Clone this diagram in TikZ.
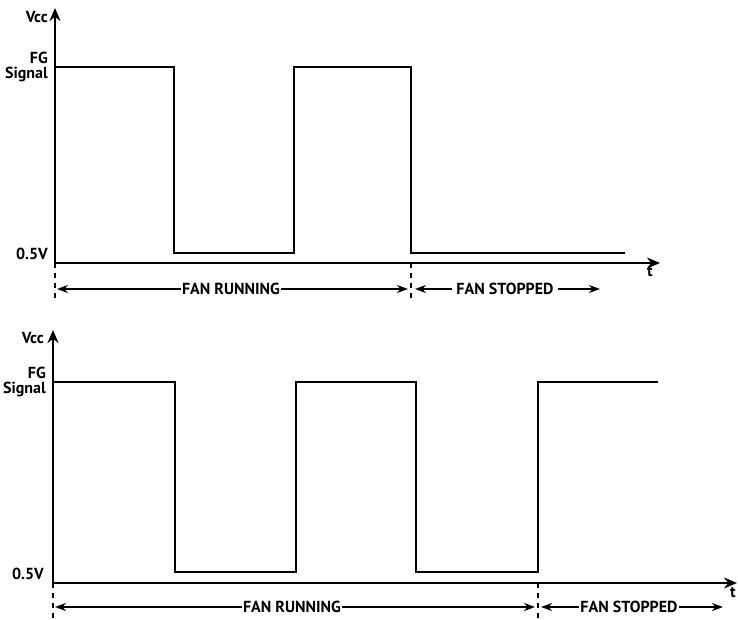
\documentclass[tikz,border=0pt]{standalone}
\usepackage{fontspec}
\setmainfont{PT Sans}
\usetikzlibrary{arrows.meta}
\begin{document}
\begin{tikzpicture}[x=1pt,y=-1pt,
  wave/.style={line width=2.9pt,line join=miter},
  axis/.style={line width=2.9pt,-{Stealth[length=13pt,width=11pt]}},
  dim/.style={line width=2.3pt,-{Stealth[length=11pt,width=8pt]}},
  marker/.style={line width=1.8pt,dash pattern=on 5pt off 5pt},
  lbl/.style={font=\bfseries\fontsize{16}{17}\selectfont,inner sep=1pt},
  ylbl/.style={font=\bfseries\fontsize{16}{15}\selectfont,align=right,inner sep=1pt,anchor=east}]
\useasboundingbox (0,0) rectangle (738,620);
% ---------------- top diagram ----------------
\coordinate (o1) at (55,263);
\coordinate (ytop1) at (55,8);
\coordinate (xend1) at (660,263);
\draw[axis] (o1) -- (ytop1);
\draw[axis] (o1) -- (xend1);
\node[ylbl] (vcc1) at (49,17) {Vcc};
\node[ylbl] (fg1) at (49,67) {FG\\Signal};
\node[ylbl] (v051) at (49,254) {0.5V};
\node[lbl,anchor=north] (t1) at (650,265) {t};
\draw[wave] (55,67) -- (174,67) -- (174,253) -- (294,253) -- (294,67) -- (411,67) -- (411,253) -- (625,253);
\coordinate (d1a) at (55,263);
\coordinate (d1b) at (55,302);
\coordinate (d2a) at (411,263);
\coordinate (d2b) at (411,302);
\draw[marker] (d1a) -- (d1b);
\draw[marker] (d2a) -- (d2b);
\node[lbl] (run1) at (231,289) {FAN RUNNING};
\node[lbl] (stop1) at (505,289) {FAN STOPPED};
\coordinate (r1l) at (57,289);
\coordinate (r1r) at (408,289);
\coordinate (s1l) at (415,289);
\coordinate (s1r) at (600,289);
\draw[dim] (run1.west) -- (r1l);
\draw[dim] (run1.east) -- (r1r);
\draw[dim] (stop1.west) ++(-3,0) -- (s1l);
\draw[dim] (stop1.east) ++(3,0) -- (s1r);
% ---------------- bottom diagram ----------------
\coordinate (o2) at (53,583);
\coordinate (ytop2) at (53,330);
\coordinate (xend2) at (737,583);
\draw[axis] (o2) -- (ytop2);
\draw[axis] (o2) -- (xend2);
\node[ylbl] (vcc2) at (45,338) {Vcc};
\node[ylbl] (fg2) at (47,382) {FG\\Signal};
\node[ylbl] (v052) at (45,574) {0.5V};
\node[lbl,anchor=north] (t2) at (733,586) {t};
\draw[wave] (53,382) -- (175,382) -- (175,572) -- (296,572) -- (296,382) -- (416,382) -- (416,572) -- (538,572) -- (538,382) -- (658,382);
\coordinate (d3a) at (53,583);
\coordinate (d3b) at (53,620);
\coordinate (d4a) at (538,583);
\coordinate (d4b) at (538,620);
\draw[marker] (d3a) -- (d3b);
\draw[marker] (d4a) -- (d4b);
\node[lbl] (run2) at (292,607) {FAN RUNNING};
\node[lbl] (stop2) at (629,607) {FAN STOPPED};
\coordinate (r2l) at (55,607);
\coordinate (r2r) at (535,607);
\coordinate (s2l) at (541,607);
\coordinate (s2r) at (723,607);
\draw[dim] (run2.west) -- (r2l);
\draw[dim] (run2.east) -- (r2r);
\draw[dim] (stop2.west) -- (s2l);
\draw[dim] (stop2.east) -- (s2r);
\end{tikzpicture}
\end{document}
